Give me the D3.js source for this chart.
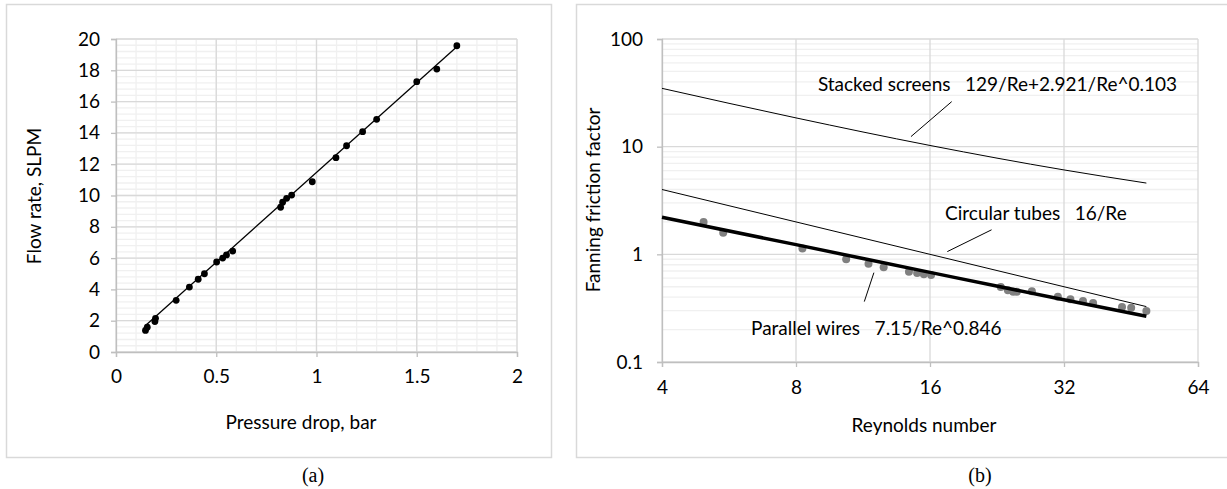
<!DOCTYPE html>
<meta charset="utf-8">
<style>
	body { margin:0; background:#fff; }
	svg { display:block; }
	text { font-family: Lato, "Open Sans", sans-serif; fill:#000; }
	.cap { font-family: "Liberation Serif", serif; }
</style>
<script src="https://d3js.org/d3.v7.min.js"></script>
<body>
<script>
	// ---- panel (a) data: flow rate vs pressure drop
	var dropBar  = [0.147, 0.156, 0.194, 0.197, 0.30, 0.366, 0.41, 0.441, 0.502, 0.532, 0.551, 0.582,
	                0.821, 0.831, 0.851, 0.876, 0.979, 1.097, 1.15, 1.23, 1.30, 1.50, 1.60, 1.70];
	var flowSlpm = [1.38, 1.58, 1.95, 2.15, 3.3, 4.15, 4.65, 5.0, 5.75, 6.0, 6.2, 6.45,
	                9.25, 9.57, 9.82, 10.03, 10.88, 12.42, 13.18, 14.08, 14.87, 17.27, 18.08, 19.57];
	var fitDrop = [0.15, 1.70];
	var fitFlow = [1.72, 19.5];
	var aTicksX = [0, 0.5, 1, 1.5, 2];
	var aTicksY = [0, 2, 4, 6, 8, 10, 12, 14, 16, 18, 20];

	// ---- panel (b) data: friction factor vs Reynolds number
	var reynolds = [4.96, 5.49, 8.27, 10.37, 11.64, 12.59, 14.35, 14.97, 15.5, 16.09, 23.07,
	                23.94, 24.6, 25.07, 27.1, 31.0, 33.08, 35.3, 37.2, 43.2, 45.3, 49.0];
	var fanning  = [2.0, 1.59, 1.13, 0.90, 0.818, 0.757, 0.689, 0.67, 0.652, 0.642, 0.497,
	                0.463, 0.45, 0.45, 0.455, 0.404, 0.382, 0.368, 0.353, 0.324, 0.319, 0.298];
	var curveRe      = [4, 8, 16, 32, 49];
	var screensF     = [34.8, 18.5, 10.26, 6.08, 4.59];
	var tubesF       = [4.0, 2.0, 1.0, 0.5, 0.327];
	var wiresF       = [2.21, 1.23, 0.68, 0.378, 0.266];
	var bTicksX = [4, 8, 16, 32, 64];
	var bTicksY = [0.1, 1, 10, 100];

	var svg = d3.select("body").append("svg")
		.attr("width", 1227)
		.attr("height", 489);

	var grid = "#d9d9d9", gridMinor = "#f0f0f0", axisCol = "#bfbfbf";
	var fs = "19px";

	// panel frames
	svg.append("rect").attr("x", 6.5).attr("y", 4.5).attr("width", 545).attr("height", 453)
		.attr("fill", "none").attr("stroke", "#d9d9d9").attr("stroke-width", 1.5);
	svg.append("rect").attr("x", 576.5).attr("y", 4.5).attr("width", 660).attr("height", 453)
		.attr("fill", "none").attr("stroke", "#d9d9d9").attr("stroke-width", 1.5);

	// ================= panel (a)
	var xa = d3.scaleLinear().domain([0, 2]).range([116, 517]);
	var ya = d3.scaleLinear().domain([0, 20]).range([352, 39]);
	var ga = svg.append("g");

	// minor grid
	ga.selectAll(".mx").data(d3.range(0, 2.001, 0.1)).enter().append("line")
		.attr("x1", function(d) {return xa(d)}).attr("x2", function(d) {return xa(d)})
		.attr("y1", ya(0)).attr("y2", ya(20))
		.attr("stroke", gridMinor).attr("stroke-width", 1.3);
	ga.selectAll(".my").data(d3.range(0, 20.001, 0.4)).enter().append("line")
		.attr("y1", function(d) {return ya(d)}).attr("y2", function(d) {return ya(d)})
		.attr("x1", xa(0)).attr("x2", xa(2))
		.attr("stroke", gridMinor).attr("stroke-width", 1.3);
	// major grid
	ga.selectAll(".gx").data(aTicksX).enter().append("line")
		.attr("x1", function(d) {return xa(d)}).attr("x2", function(d) {return xa(d)})
		.attr("y1", ya(0)).attr("y2", ya(20))
		.attr("stroke", grid).attr("stroke-width", 1.3);
	ga.selectAll(".gy").data(aTicksY).enter().append("line")
		.attr("y1", function(d) {return ya(d)}).attr("y2", function(d) {return ya(d)})
		.attr("x1", xa(0)).attr("x2", xa(2))
		.attr("stroke", grid).attr("stroke-width", 1.3);

	var axA = ga.append("g").attr("transform", "translate(0," + ya(0) + ")")
		.call(d3.axisBottom(xa).tickValues(aTicksX).tickSize(5).tickPadding(13)
			.tickFormat(function(d) {return String(d)}));
	var ayA = ga.append("g").attr("transform", "translate(" + xa(0) + ",0)")
		.call(d3.axisLeft(ya).tickValues(aTicksY).tickSize(5).tickPadding(11)
			.tickFormat(function(d) {return String(d)}));

	ga.append("path")
		.datum(d3.zip(fitDrop, fitFlow))
		.attr("d", d3.line().x(function(d) {return xa(d[0])}).y(function(d) {return ya(d[1])}))
		.attr("fill", "none").attr("stroke", "#000").attr("stroke-width", 1.3);

	ga.selectAll(".pa").data(d3.zip(dropBar, flowSlpm)).enter().append("circle")
		.attr("cx", function(d) {return xa(d[0])})
		.attr("cy", function(d) {return ya(d[1])})
		.attr("r", 3.4).attr("fill", "#000");

	ga.append("text").attr("x", 301).attr("y", 429).attr("text-anchor", "middle")
		.style("font-size", fs).text("Pressure drop, bar");
	ga.append("text").attr("transform", "translate(41,196) rotate(-90)").attr("text-anchor", "middle")
		.style("font-size", fs).text("Flow rate, SLPM");
	svg.append("text").attr("class", "cap").attr("x", 313).attr("y", 482).attr("text-anchor", "middle")
		.style("font-size", "20px").text("(a)");

	// ================= panel (b)
	var xb = d3.scaleLog().base(2).domain([4, 64]).range([662, 1198]);
	var yb = d3.scaleLog().domain([0.1, 100]).range([362, 39]);
	var gb = svg.append("g");

	var minorY = [];
	[0.1, 1, 10].forEach(function(dec) {
		for (var k = 2; k <= 9; k++) minorY.push(dec * k);
	});
	gb.selectAll(".my").data(minorY).enter().append("line")
		.attr("y1", function(d) {return yb(d)}).attr("y2", function(d) {return yb(d)})
		.attr("x1", xb(4)).attr("x2", xb(64))
		.attr("stroke", gridMinor).attr("stroke-width", 1.3);
	gb.selectAll(".gx").data(bTicksX).enter().append("line")
		.attr("x1", function(d) {return xb(d)}).attr("x2", function(d) {return xb(d)})
		.attr("y1", yb(0.1)).attr("y2", yb(100))
		.attr("stroke", grid).attr("stroke-width", 1.3);
	gb.selectAll(".gy").data(bTicksY).enter().append("line")
		.attr("y1", function(d) {return yb(d)}).attr("y2", function(d) {return yb(d)})
		.attr("x1", xb(4)).attr("x2", xb(64))
		.attr("stroke", grid).attr("stroke-width", 1.3);

	var axB = gb.append("g").attr("transform", "translate(0," + yb(0.1) + ")")
		.call(d3.axisBottom(xb).tickValues(bTicksX).tickSize(5).tickPadding(14)
			.tickFormat(function(d) {return String(d)}));
	var ayB = gb.append("g").attr("transform", "translate(" + xb(4) + ",0)")
		.call(d3.axisLeft(yb).tickValues(bTicksY).tickSize(5).tickPadding(14)
			.tickFormat(function(d) {return String(d)}));

	var lineB = d3.line().curve(d3.curveMonotoneX)
		.x(function(d) {return xb(d[0])}).y(function(d) {return yb(d[1])});
	gb.append("path").datum(d3.zip(curveRe, screensF)).attr("d", lineB)
		.attr("fill", "none").attr("stroke", "#000").attr("stroke-width", 1);
	gb.append("path").datum(d3.zip(curveRe, tubesF)).attr("d", lineB)
		.attr("fill", "none").attr("stroke", "#000").attr("stroke-width", 1);

	gb.selectAll(".pb").data(d3.zip(reynolds, fanning)).enter().append("circle")
		.attr("cx", function(d) {return xb(d[0])})
		.attr("cy", function(d) {return yb(d[1])})
		.attr("r", 4).attr("fill", "#808080");

	gb.append("path").datum(d3.zip(curveRe, wiresF)).attr("d", lineB)
		.attr("fill", "none").attr("stroke", "#000").attr("stroke-width", 3.5);

	// annotations (data coordinates)
	var notes = [
		{text: "Stacked screens   129/Re+2.921/Re^0.103", re: 8.96, f: 37.6, lead: [[17.9, 26.2], [14.5, 12.4]]},
		{text: "Circular tubes   16/Re", re: 17.3, f: 2.41, lead: [[22.0, 1.69], [17.5, 1.06]]},
		{text: "Parallel wires   7.15/Re^0.846", re: 6.34, f: 0.2075, lead: [[11.97, 0.676], [11.39, 0.364]]}
	];
	notes.forEach(function(n) {
		gb.append("text").attr("x", xb(n.re)).attr("y", yb(n.f)).attr("dy", "0.35em")
			.style("font-size", fs).style("white-space", "pre").text(n.text);
		gb.append("line")
			.attr("x1", xb(n.lead[0][0])).attr("y1", yb(n.lead[0][1]))
			.attr("x2", xb(n.lead[1][0])).attr("y2", yb(n.lead[1][1]))
			.attr("stroke", "#000").attr("stroke-width", 1);
	});

	gb.append("text").attr("x", 924).attr("y", 432).attr("text-anchor", "middle")
		.style("font-size", fs).text("Reynolds number");
	gb.append("text").attr("transform", "translate(600,200) rotate(-90)").attr("text-anchor", "middle")
		.style("font-size", fs).text("Fanning friction factor");
	svg.append("text").attr("class", "cap").attr("x", 980).attr("y", 482).attr("text-anchor", "middle")
		.style("font-size", "20px").text("(b)");

	// axis styling
	[axA, ayA, axB, ayB].forEach(function(a) {
		a.select(".domain").attr("stroke", axisCol).attr("stroke-width", 1.3);
		a.selectAll(".tick line").attr("stroke", axisCol).attr("stroke-width", 1.3);
		a.selectAll(".tick text").style("font-size", fs).style("font-family", "Lato, sans-serif");
	});
</script>
</body>
